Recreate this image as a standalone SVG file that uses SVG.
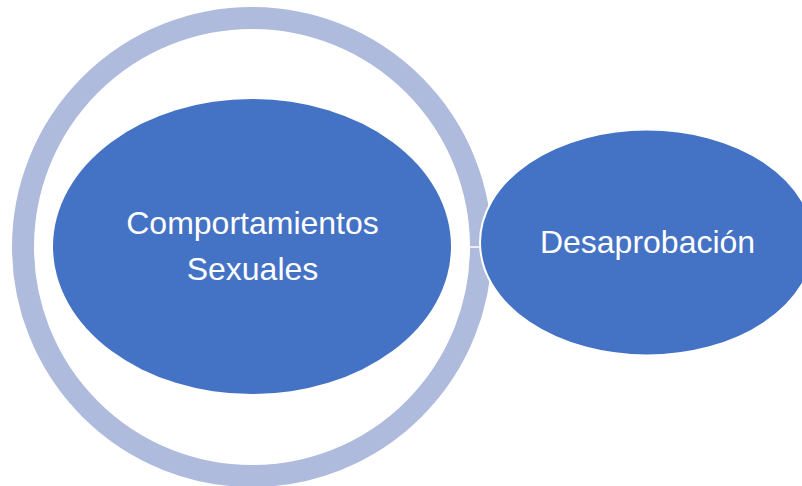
<svg xmlns="http://www.w3.org/2000/svg" width="802" height="486" viewBox="0 0 802 486">
<style>
.node { fill: #4472C4; }
.lbl { fill: #FFFFFF; font-family: "Liberation Sans", Arial, sans-serif; font-size: 32px; text-anchor: middle; }
</style>
<rect x="0" y="0" width="802" height="486" fill="#FFFFFF"/>
<g id="ring">
<circle cx="252" cy="247" r="229" fill="none" stroke="#AFBBDD" stroke-width="22"/>
</g>
<g id="connectors">
<line x1="451" y1="247" x2="482" y2="247" stroke="#FFFFFF" stroke-width="1.5"/>
</g>
<g id="node-comportamientos">
<ellipse class="node" cx="252" cy="246.5" rx="199" ry="147.5"/>
<text class="lbl" x="252.5" y="234">Comportamientos</text>
<text class="lbl" x="252.5" y="280">Sexuales</text>
</g>
<g id="node-desaprobacion">
<ellipse class="node" cx="647" cy="242.5" rx="167" ry="113" stroke="#FFFFFF" stroke-width="2"/>
<text class="lbl" x="647.5" y="253">Desaprobación</text>
</g>
</svg>
